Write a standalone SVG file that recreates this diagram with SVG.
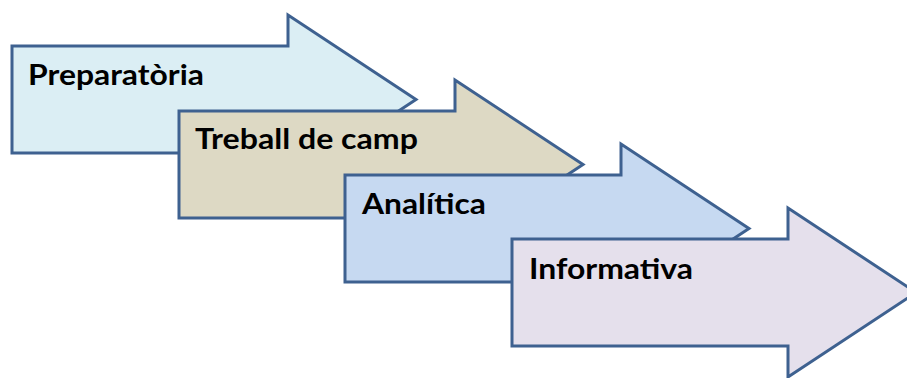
<svg xmlns="http://www.w3.org/2000/svg" width="907" height="378" viewBox="0 0 907 378">
  <style>
    .arrow { stroke: #3E6190; stroke-width: 3; stroke-linejoin: miter; }
    .label { font-family: Lato, "Open Sans", "Liberation Sans", sans-serif; font-weight: bold; font-size: 28px; fill: #000; }
  </style>
  <defs>
    <!-- block arrow: body 276 x 107, head 128 long, 170 tall -->
    <path id="blockArrow" d="M0,0 H276 V-31 L404,53.5 L276,138 V107 H0 Z"/>
  </defs>
  <rect width="907" height="378" fill="#fff"/>
  <g id="connectors"/>
  <g id="stage-preparatoria">
    <use href="#blockArrow" x="12" y="46" class="arrow" fill="#DBEEF4"/>
    <text class="label" x="28" y="85" textLength="176" lengthAdjust="spacingAndGlyphs">Preparatòria</text>
  </g>
  <g id="stage-treball">
    <use href="#blockArrow" x="179" y="111" class="arrow" fill="#DDD9C4"/>
    <text class="label" x="195" y="149" textLength="223" lengthAdjust="spacingAndGlyphs">Treball de camp</text>
  </g>
  <g id="stage-analitica">
    <use href="#blockArrow" x="345" y="175" class="arrow" fill="#C6D9F1"/>
    <text class="label" x="362" y="214" textLength="124" lengthAdjust="spacingAndGlyphs">Analítica</text>
  </g>
  <g id="stage-informativa">
    <use href="#blockArrow" x="512" y="239" class="arrow" fill="#E5E0EC"/>
    <text class="label" x="529" y="279" textLength="164" lengthAdjust="spacingAndGlyphs">Informativa</text>
  </g>
</svg>
